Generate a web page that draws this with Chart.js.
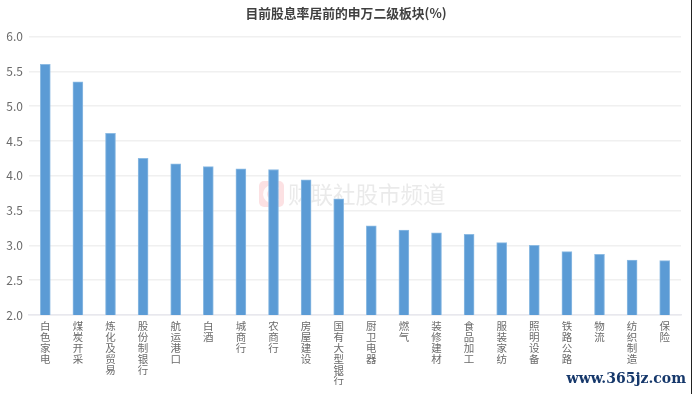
<!DOCTYPE html>
<html>
<head>
<meta charset="utf-8">
<script src="https://cdn.jsdelivr.net/npm/chart.js@4"></script>
<style>
html, body { margin: 0; padding: 0; background: #fff; }
#wrap { position: relative; width: 692px; height: 394px; overflow: hidden; }
</style>
</head>
<body>
<div id="wrap"><canvas id="grafico" width="692" height="394"></canvas></div>
<script>
const categorias = ["白色家电", "煤炭开采", "炼化及贸易", "股份制银行", "航运港口", "白酒", "城商行", "农商行", "房屋建设", "国有大型银行",
    "厨卫电器", "燃气", "装修建材", "食品加工", "服装家纺", "照明设备", "铁路公路", "物流", "纺织制造", "保险"];
const valores = [5.60, 5.35, 4.61, 4.25, 4.17, 4.13, 4.10, 4.09, 3.94, 3.67,
    3.28, 3.22, 3.18, 3.16, 3.04, 3.00, 2.91, 2.87, 2.79, 2.78];
const titulo = "目前股息率居前的申万二级板块(%)";
const marcaDagua = "财联社股市频道";
const site = "www.365jz.com";

const fonte = "'Noto Sans CJK SC', 'Liberation Sans', sans-serif";

// faint watermark goes under the bars, title and site stamp on top
const marcas = {
    id: "marcas",
    beforeDatasetsDraw(chart) {
        const c = chart.ctx;
        c.save();
        c.fillStyle = "rgba(250, 205, 208, 0.6)";
        c.beginPath();
        c.roundRect(259, 181, 25, 26, 5);
        c.fill();
        c.strokeStyle = "rgba(255, 255, 255, 0.9)";
        c.lineWidth = 4;
        c.beginPath();
        c.arc(272, 194, 7, 0.7, Math.PI * 2 - 0.7);
        c.stroke();
        c.fillStyle = "rgba(190, 190, 190, 0.32)";
        c.font = "22.5px " + fonte;
        c.textBaseline = "middle";
        c.fillText(marcaDagua, 288, 194);
        c.restore();
    },
    afterDraw(chart) {
        const c = chart.ctx;
        c.save();
        c.textBaseline = "middle";
        // title centred on the whole picture, not on the padded area
        c.fillStyle = "#404040";
        c.font = "bold 12.8px " + fonte;
        c.textAlign = "center";
        c.fillText(titulo, 346, 13);
        c.fillStyle = "#16386b";
        c.font = "bold 14px 'DejaVu Serif', serif";
        c.textAlign = "right";
        c.fillText(site, 686, 379);
        // dark edge along the right side of the screenshot
        c.fillStyle = "#222";
        c.fillRect(691, 0, 1, 394);
        c.restore();
    }
};

const ctx = document.getElementById("grafico").getContext("2d");
new Chart(ctx, {
    type: "bar",
    data: {
        labels: categorias.map(c => Array.from(c)),
        datasets: [{
            data: valores,
            backgroundColor: "#5B9BD5",
            borderColor: "#8DBBE3",
            borderWidth: { left: 1, right: 1, top: 1, bottom: 0 },
            barThickness: 10
        }]
    },
    options: {
        responsive: false,
        animation: false,
        layout: { padding: { top: 36.5, right: 11, left: 0, bottom: 0 } },
        plugins: {
            legend: { display: false },
            tooltip: { enabled: false },
            title: { display: false }
        },
        scales: {
            y: {
                min: 2,
                max: 6,
                afterFit(eixo) { eixo.width = 29; },
                ticks: {
                    stepSize: 0.5,
                    color: "#6b6b6b",
                    padding: 6,
                    font: { family: fonte, size: 12 },
                    callback: v => v.toFixed(1)
                },
                grid: { color: "#F0F0F0", lineWidth: 1.5, drawTicks: false },
                border: { display: false }
            },
            x: {
                afterFit(eixo) { eixo.height = 79; },
                ticks: {
                    autoSkip: false,
                    maxRotation: 0,
                    minRotation: 0,
                    color: "#6b6b6b",
                    padding: 6,
                    font: { family: fonte, size: 10.5, lineHeight: "10.8px" }
                },
                grid: { display: false, drawTicks: false },
                border: { color: "#E8E8EE", width: 1.5 }
            }
        }
    },
    plugins: [marcas]
});
</script>
</body>
</html>
